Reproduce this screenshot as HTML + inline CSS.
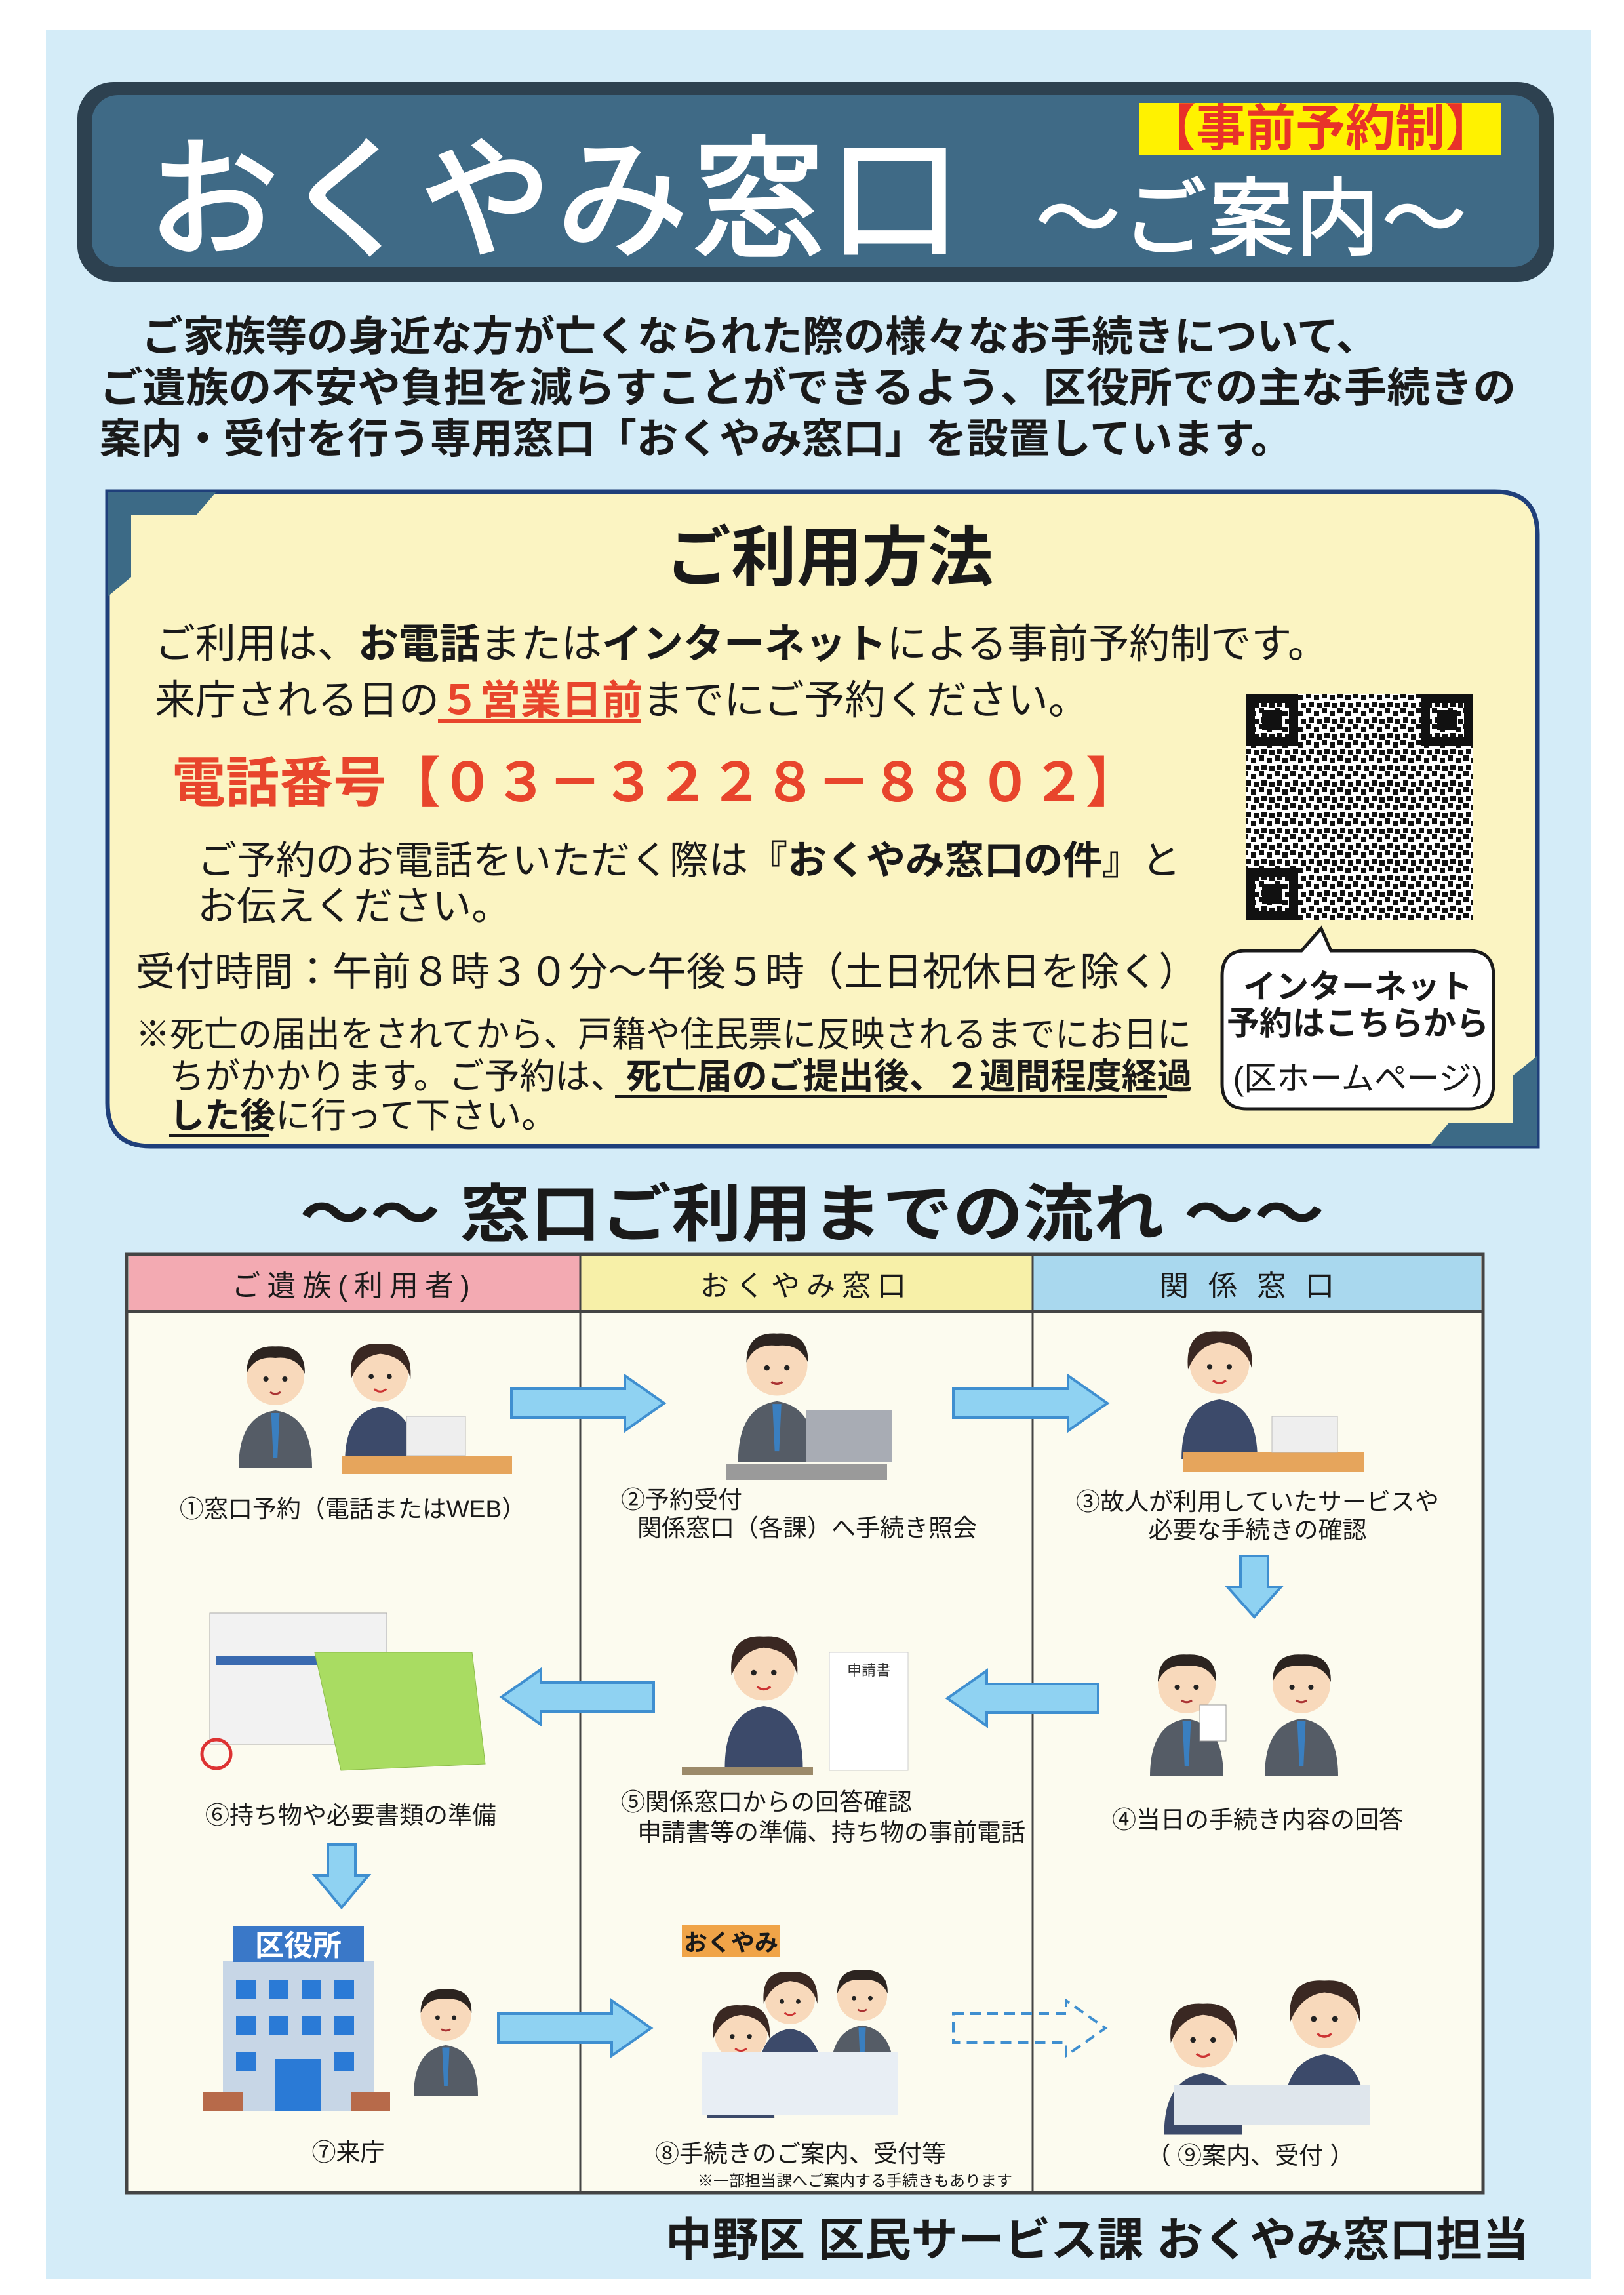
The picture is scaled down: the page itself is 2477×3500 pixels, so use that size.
<!DOCTYPE html>
<html><head><meta charset="utf-8"><style>
html,body{margin:0;padding:0;background:#fff;}
svg{display:block}
text{font-family:"Liberation Sans","Noto Sans CJK JP",sans-serif;}
</style></head><body>
<svg width="2477" height="3500" viewBox="0 0 2477 3500" xmlns="http://www.w3.org/2000/svg">
<defs>
<pattern id="qr" width="24" height="24" patternUnits="userSpaceOnUse">
<rect width="24" height="24" fill="#fff"/>
<rect x="0" y="0" width="8" height="8" fill="#111"/><rect x="12" y="4" width="8" height="8" fill="#111"/>
<rect x="4" y="14" width="8" height="8" fill="#111"/><rect x="16" y="16" width="8" height="8" fill="#111"/>
</pattern>
<symbol id="pw" viewBox="0 0 200 260">
<path d="M30 260 Q30 160 100 150 Q170 160 170 260Z" fill="#3c4a6a"/>
<circle cx="100" cy="85" r="55" fill="#f8d9bb"/>
<path d="M42 95 Q35 20 100 25 Q165 20 160 95 Q150 50 100 45 Q60 50 42 95Z" fill="#3a2822"/>
<circle cx="82" cy="90" r="5" fill="#222"/><circle cx="118" cy="90" r="5" fill="#222"/>
<path d="M88 115 Q100 125 112 115" stroke="#c33" stroke-width="4" fill="none"/>
</symbol>
<symbol id="pm" viewBox="0 0 200 260">
<path d="M30 260 Q30 160 100 150 Q170 160 170 260Z" fill="#555c66"/>
<path d="M92 155 L108 155 L104 240 L96 240Z" fill="#3a7fc0"/>
<circle cx="100" cy="85" r="55" fill="#f8d9bb"/>
<path d="M45 80 Q45 25 100 28 Q158 25 156 80 Q140 45 100 50 Q60 45 45 80Z" fill="#2c2420"/>
<circle cx="82" cy="90" r="5" fill="#222"/><circle cx="118" cy="90" r="5" fill="#222"/>
<path d="M90 115 Q100 122 110 115" stroke="#a33" stroke-width="4" fill="none"/>
</symbol>
</defs>

<rect x="70" y="45" width="2357" height="3430" fill="#d4ecf8"/>

<rect x="118" y="125" width="2252" height="305" rx="55" fill="#2d4150"/>
<rect x="140" y="145" width="2208" height="262" rx="40" fill="#3f6a86"/>
<rect x="1738" y="157" width="552" height="80" fill="#fff200"/>
<text x="2014" y="222" font-size="76" font-weight="bold" fill="#e8322a" text-anchor="middle">【事前予約制】</text>
<text x="225" y="375" font-size="200" fill="#fff" stroke="#fff" stroke-width="5" letter-spacing="8">おくやみ窓口</text>
<text x="1580" y="378" font-size="128" fill="#fff" stroke="#fff" stroke-width="3" letter-spacing="4">～ご案内～</text>

<g font-size="63" font-weight="bold" fill="#1a1a1a">
<text x="216" y="535">ご家族等の身近な方が亡くなられた際の様々なお手続きについて、</text>
<text x="152" y="613" textLength="2160" lengthAdjust="spacingAndGlyphs">ご遺族の不安や負担を減らすことができるよう、区役所での主な手続きの</text>
<text x="152" y="691">案内・受付を行う専用窓口「おくやみ窓口」を設置しています。</text>
</g>

<path d="M164 750 H2280 Q2345 750 2345 815 V1748 H230 Q164 1748 164 1682 Z" fill="#fbf4c2" stroke="#1f3f7a" stroke-width="7"/>
<path d="M164 750 L330 750 L300 785 L200 785 L200 880 L164 910 Z" fill="#3c6a86"/>
<path d="M2345 1748 L2180 1748 L2210 1712 L2308 1712 L2308 1640 L2345 1610 Z" fill="#3c6a86"/>
<text x="1265" y="885" font-size="100" font-weight="bold" fill="#1a1a1a" text-anchor="middle">ご利用方法</text>
<g font-size="62" fill="#1a1a1a">
<text x="236" y="1003">ご利用は、<tspan font-weight="bold">お電話</tspan>または<tspan font-weight="bold">インターネット</tspan>による事前予約制です。</text>
<text x="236" y="1089">来庁される日の<tspan fill="#e8452c" font-weight="bold">５営業日前</tspan>までにご予約ください。</text>
</g>
<rect x="668" y="1097" width="310" height="5" fill="#e8452c"/>
<text x="262" y="1222" font-size="82" font-weight="bold" fill="#e8452c">電話番号【０３－３２２８－８８０２】</text>
<g font-size="60" fill="#1a1a1a">
<text x="301" y="1333">ご予約のお電話をいただく際は<tspan font-weight="bold">『おくやみ窓口の件』</tspan>と</text>
<text x="301" y="1403">お伝えください。</text>
<text x="207" y="1503">受付時間：午前８時３０分～午後５時（土日祝休日を除く）</text>
</g>
<g font-size="54" fill="#1a1a1a">
<text x="207" y="1596" textLength="1610" lengthAdjust="spacingAndGlyphs">※死亡の届出をされてから、戸籍や住民票に反映されるまでにお日に</text>
<text x="258" y="1660">ちがかかります。ご予約は、<tspan font-weight="bold">死亡届のご提出後、２週間程度経過</tspan></text>
<text x="258" y="1720"><tspan font-weight="bold">した後</tspan>に行って下さい。</text>
</g>
<rect x="938" y="1670" width="842" height="4" fill="#1a1a1a"/>
<rect x="258" y="1730" width="152" height="4" fill="#1a1a1a"/>
<rect x="1900" y="1058" width="347" height="345" fill="url(#qr)"/>
<g fill="none" stroke="#111" stroke-width="14">
<rect x="1907" y="1065" width="66" height="66"/><rect x="2174" y="1065" width="66" height="66"/><rect x="1907" y="1330" width="66" height="66"/>
</g>
<rect x="1925" y="1083" width="30" height="30" fill="#111"/><rect x="2192" y="1083" width="30" height="30" fill="#111"/><rect x="1925" y="1348" width="30" height="30" fill="#111"/>
<path d="M1900 1450 H1985 L2015 1416 L2030 1450 H2240 Q2278 1450 2278 1488 V1653 Q2278 1691 2240 1691 H1902 Q1864 1691 1864 1653 V1488 Q1864 1450 1900 1450Z" fill="#fff" stroke="#1a1a1a" stroke-width="5"/>
<g font-size="50" font-weight="bold" fill="#1a1a1a" text-anchor="middle">
<text x="2071" y="1522">インターネット</text>
<text x="2071" y="1578">予約はこちらから</text>
<text x="2071" y="1662" font-weight="normal">(区ホームページ)</text>
</g>

<text x="457" y="1885" font-size="96" font-weight="bold" fill="#1a1a1a" textLength="1563" lengthAdjust="spacingAndGlyphs">～～ 窓口ご利用までの流れ ～～</text>

<rect x="193" y="1913" width="2069" height="1431" fill="#fcfbef" stroke="#444" stroke-width="5"/>
<rect x="196" y="1916" width="689" height="84" fill="#f3aab2"/>
<rect x="885" y="1916" width="690" height="84" fill="#f7f0a8"/>
<rect x="1575" y="1916" width="684" height="84" fill="#a9d8ee"/>
<line x1="193" y1="2000" x2="2262" y2="2000" stroke="#444" stroke-width="4"/>
<line x1="885" y1="1913" x2="885" y2="3344" stroke="#444" stroke-width="3"/>
<line x1="1575" y1="1913" x2="1575" y2="3344" stroke="#444" stroke-width="3"/>
<g font-size="44" fill="#1a1a1a" text-anchor="middle" letter-spacing="10">
<text x="540" y="1976">ご遺族(利用者)</text>
<text x="1230" y="1976">おくやみ窓口</text>
<text x="1917" y="1976" letter-spacing="30">関係窓口</text>
</g>

<g fill="#8fd2f2" stroke="#3f8fd0" stroke-width="4">
<polygon points="780,2118 953,2118 953,2098 1013,2140 953,2182 953,2162 780,2162"/>
<polygon points="1454,2118 1629,2118 1629,2098 1689,2140 1629,2182 1629,2162 1454,2162"/>
<polygon points="1892,2373 1934,2373 1934,2420 1954,2420 1913,2466 1872,2420 1892,2420"/>
<polygon points="997,2566 825,2566 825,2546 765,2588 825,2630 825,2610 997,2610"/>
<polygon points="1675,2568 1505,2568 1505,2548 1445,2590 1505,2632 1505,2612 1675,2612"/>
<polygon points="500,2813 542,2813 542,2860 562,2860 521,2909 480,2860 500,2860"/>
<polygon points="760,3071 933,3071 933,3051 993,3093 933,3135 933,3115 760,3115"/>
<polygon points="1454,3071 1626,3071 1626,3051 1686,3093 1626,3135 1626,3115 1454,3115" fill="none" stroke-dasharray="16 10"/>
</g>

<use href="#pm" x="340" y="2030" width="160" height="210"/>
<use href="#pw" x="500" y="2030" width="160" height="200"/>
<rect x="521" y="2220" width="260" height="28" fill="#e6a55c"/>
<rect x="620" y="2160" width="90" height="60" fill="#eee" stroke="#bbb"/>
<use href="#pm" x="1100" y="2010" width="170" height="220"/>
<rect x="1230" y="2150" width="130" height="80" fill="#a8acb4"/>
<rect x="1108" y="2232" width="245" height="25" fill="#9a9a9a"/>
<use href="#pw" x="1775" y="2010" width="170" height="215"/>
<rect x="1805" y="2215" width="275" height="30" fill="#e6a55c"/>
<rect x="1940" y="2160" width="100" height="55" fill="#eee" stroke="#bbb"/>
<rect x="320" y="2460" width="270" height="200" fill="#f2f2f2" stroke="#aaa"/>
<rect x="330" y="2525" width="180" height="14" fill="#3a6ab0"/>
<rect x="500" y="2535" width="70" height="80" fill="#cfe6f5"/>
<path d="M480 2520 L720 2520 L740 2690 L520 2700Z" fill="#a9dc62" stroke="#8cbb4a"/>
<circle cx="330" cy="2675" r="22" fill="none" stroke="#d33" stroke-width="5"/>
<use href="#pw" x="1080" y="2470" width="170" height="230"/>
<rect x="1040" y="2695" width="200" height="12" fill="#9c8a6a"/>
<rect x="1265" y="2520" width="120" height="180" fill="#fff" stroke="#ccc"/>
<text x="1325" y="2555" font-size="22" text-anchor="middle" fill="#333">申請書</text>
<use href="#pm" x="1730" y="2480" width="160" height="250"/>
<use href="#pm" x="1905" y="2480" width="160" height="250"/>
<rect x="1830" y="2600" width="40" height="55" fill="#fff" stroke="#999"/>
<rect x="340" y="2990" width="230" height="230" fill="#c7d6e6"/>
<rect x="355" y="2937" width="200" height="55" fill="#3a78c8"/>
<text x="455" y="2982" font-size="44" font-weight="bold" fill="#fff" text-anchor="middle">区役所</text>
<g fill="#2a7ad6">
<rect x="360" y="3020" width="30" height="28"/><rect x="410" y="3020" width="30" height="28"/><rect x="460" y="3020" width="30" height="28"/><rect x="510" y="3020" width="30" height="28"/>
<rect x="360" y="3075" width="30" height="28"/><rect x="410" y="3075" width="30" height="28"/><rect x="460" y="3075" width="30" height="28"/><rect x="510" y="3075" width="30" height="28"/>
<rect x="360" y="3130" width="30" height="28"/><rect x="420" y="3140" width="70" height="80"/><rect x="510" y="3130" width="30" height="28"/>
</g>
<rect x="310" y="3190" width="60" height="30" fill="#b76a4a"/><rect x="535" y="3190" width="60" height="30" fill="#b76a4a"/>
<use href="#pm" x="610" y="2990" width="140" height="230"/>
<rect x="1040" y="2935" width="150" height="50" fill="#f0a448"/>
<text x="1115" y="2975" font-size="36" font-weight="bold" fill="#1a1a1a" text-anchor="middle">おくやみ</text>
<use href="#pw" x="1135" y="2990" width="140" height="180"/>
<use href="#pm" x="1245" y="2985" width="140" height="180"/>
<use href="#pw" x="1050" y="3040" width="160" height="190"/>
<rect x="1070" y="3130" width="300" height="95" fill="#e8eef4"/>
<use href="#pw" x="1750" y="3030" width="170" height="230"/>
<use href="#pw" x="1930" y="2985" width="180" height="260"/>
<rect x="1790" y="3180" width="300" height="60" fill="#dfe6ec"/>

<g font-size="37" fill="#1a1a1a">
<text x="538" y="2314" text-anchor="middle">①窓口予約（電話またはWEB）</text>
<text x="947" y="2300">②予約受付</text>
<text x="972" y="2343">関係窓口（各課）へ手続き照会</text>
<text x="1918" y="2303" text-anchor="middle">③故人が利用していたサービスや</text>
<text x="1918" y="2346" text-anchor="middle">必要な手続きの確認</text>
<text x="535" y="2781" text-anchor="middle">⑥持ち物や必要書類の準備</text>
<text x="947" y="2761">⑤関係窓口からの回答確認</text>
<text x="972" y="2807">申請書等の準備、持ち物の事前電話</text>
<text x="1918" y="2788" text-anchor="middle">④当日の手続き内容の回答</text>
<text x="531" y="3295" text-anchor="middle">⑦来庁</text>
<text x="1221" y="3297" text-anchor="middle">⑧手続きのご案内、受付等</text>
<text x="1907" y="3300" text-anchor="middle">（ ⑨案内、受付 ）</text>
</g>
<text x="1304" y="3334" font-size="24" fill="#1a1a1a" text-anchor="middle">※一部担当課へご案内する手続きもあります</text>

<text x="1015" y="3440" font-size="70" font-weight="bold" fill="#1a1a1a" textLength="1317" lengthAdjust="spacingAndGlyphs">中野区 区民サービス課 おくやみ窓口担当</text>
</svg>
</body></html>
